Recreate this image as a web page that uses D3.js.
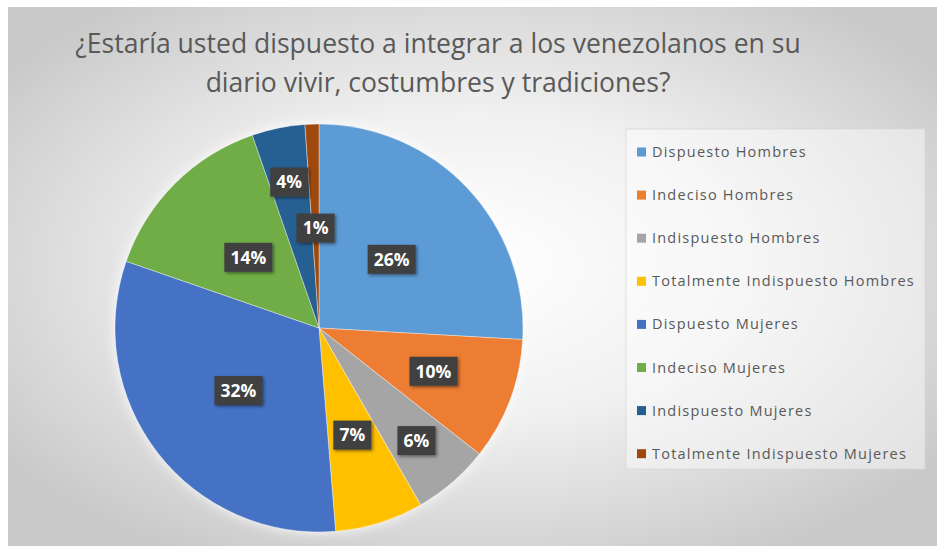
<!DOCTYPE html>
<html>
<head>
<meta charset="utf-8">
<script src="https://cdn.jsdelivr.net/npm/d3@7"></script>
<style>
  html, body { margin: 0; padding: 0; background: #ffffff; }
  svg { display: block; }
</style>
</head>
<body>
<svg id="chart" width="937" height="548"></svg>
<script>
// ---- Data ----
const titleLines = ["¿Estaría usted dispuesto a integrar a los venezolanos en su",
                    "diario vivir, costumbres y tradiciones?"];
const categories = ["Dispuesto Hombres", "Indeciso Hombres", "Indispuesto Hombres",
                    "Totalmente Indispuesto Hombres", "Dispuesto Mujeres", "Indeciso Mujeres",
                    "Indispuesto Mujeres", "Totalmente Indispuesto Mujeres"];
const shares = [25.9, 9.7, 6.1, 7.0, 31.6, 14.4, 4.2, 1.1];

// ---- Style / layout ----
const colors = ["#5B9BD5", "#ED7D31", "#A5A5A5", "#FFC000", "#4472C4", "#70AD47", "#255E91", "#9E480E"];
const labelRadiusFactor = [0.49, 0.60, 0.73, 0.55, 0.50, 0.49, 0.73, 0.49];
const W = 937, H = 548;
const cx = 319, cy = 328, R = 204;

const svg = d3.select("#chart");
const defs = svg.append("defs");

const bg = defs.append("radialGradient").attr("id", "bg")
  .attr("cx", "50%").attr("cy", "48%").attr("r", "62%");
bg.append("stop").attr("offset", "0%").attr("stop-color", "#ffffff");
bg.append("stop").attr("offset", "45%").attr("stop-color", "#f1f1f1");
bg.append("stop").attr("offset", "100%").attr("stop-color", "#c9c9c9");

const sh = defs.append("filter").attr("id", "lblShadow")
  .attr("x", "-30%").attr("y", "-30%").attr("width", "160%").attr("height", "160%");
sh.append("feDropShadow").attr("dx", 1.5).attr("dy", 1.5).attr("stdDeviation", 1.5)
  .attr("flood-color", "#000").attr("flood-opacity", 0.45);

const pieSh = defs.append("filter").attr("id", "pieShadow")
  .attr("x", "-20%").attr("y", "-20%").attr("width", "140%").attr("height", "140%");
pieSh.append("feGaussianBlur").attr("in", "SourceAlpha").attr("stdDeviation", 6).attr("result", "b");
pieSh.append("feFlood").attr("flood-color", "#ffffff").attr("flood-opacity", 0.9);
pieSh.append("feComposite").attr("in2", "b").attr("operator", "in").attr("result", "g");
const mg = pieSh.append("feMerge");
mg.append("feMergeNode").attr("in", "g");
mg.append("feMergeNode").attr("in", "SourceGraphic");

// chart area background
svg.append("rect").attr("x", 8).attr("y", 7).attr("width", W - 8).attr("height", 539)
  .attr("fill", "url(#bg)");

// ---- Title ----
const titleFont = "'Open Sans', 'Noto Sans', sans-serif";
const title = svg.append("g");
const baselines = [53, 92];
const t1 = title.append("text").text(titleLines[0])
  .attr("font-family", titleFont).attr("font-size", 21).attr("fill", "#595959");
const w1 = t1.node().getComputedTextLength();
const titleSize = 21 * 726 / w1;
title.selectAll("text").remove();
title.selectAll("text").data(titleLines).join("text")
  .attr("x", 438).attr("y", (d, i) => baselines[i])
  .attr("text-anchor", "middle")
  .attr("font-family", titleFont).attr("font-size", titleSize)
  .attr("fill", "#595959").text(d => d);

// ---- Pie ----
const pie = d3.pie().value(d => d).sort(null);
const arcs = pie(shares);
const arc = d3.arc().innerRadius(0).outerRadius(R);
const g = svg.append("g").attr("transform", `translate(${cx},${cy})`);
const slices = g.append("g").attr("filter", "url(#pieShadow)");
slices.selectAll("path").data(arcs).join("path")
  .attr("d", arc)
  .attr("fill", (d, i) => colors[i])
  .attr("stroke", "#ffffff").attr("stroke-width", 0.6).attr("stroke-opacity", 0.6);

// ---- Data labels ----
const fmt = d3.format(".0f");
const lbls = g.append("g").selectAll("g").data(arcs).join("g")
  .attr("transform", (d, i) => {
    const a = (d.startAngle + d.endAngle) / 2;
    const r = R * labelRadiusFactor[i];
    return `translate(${r * Math.sin(a)},${-r * Math.cos(a)})`;
  });
lbls.each(function(d) {
  const sel = d3.select(this);
  const txt = sel.append("text")
    .attr("text-anchor", "middle").attr("dy", "0.36em")
    .attr("font-family", "'Open Sans', sans-serif").attr("font-weight", "bold")
    .attr("font-size", 17.5).attr("fill", "#ffffff")
    .text(fmt(d.data) + "%");
  const bb = txt.node().getBBox();
  sel.insert("rect", "text")
    .attr("x", -bb.width / 2 - 6).attr("y", -14.5)
    .attr("width", bb.width + 12).attr("height", 29)
    .attr("fill", "#404040").attr("filter", "url(#lblShadow)");
});

// ---- Legend ----
const legX = 626, legY = 129, legW = 299, legH = 340;
svg.append("rect").attr("x", legX).attr("y", legY).attr("width", legW).attr("height", legH)
  .attr("fill", "#ffffff").attr("fill-opacity", 0.45)
  .attr("stroke", "#d8d8d8").attr("stroke-width", 0.8);
const legFont = "'Open Sans', 'Noto Sans', sans-serif";
const legSize = 14.5;
// letter spacing so the longest entry spans the same width as the reference
const probe = svg.append("text").attr("font-family", legFont).attr("font-size", legSize)
  .text(categories[3]);
const pw = probe.node().getComputedTextLength();
probe.remove();
const legSpacing = Math.max(0, (263 - pw) / categories[3].length);
const leg = svg.append("g").selectAll("g").data(categories).join("g")
  .attr("transform", (d, i) => `translate(637,${152 + i * 43.1})`);
leg.append("rect").attr("x", 0).attr("y", -4.5).attr("width", 9).attr("height", 9)
  .attr("fill", (d, i) => colors[i]);
leg.append("text").attr("x", 15).attr("dy", "0.35em")
  .attr("font-family", legFont).attr("font-size", legSize)
  .attr("letter-spacing", legSpacing)
  .attr("fill", "#595959").text(d => d);
</script>
</body>
</html>
